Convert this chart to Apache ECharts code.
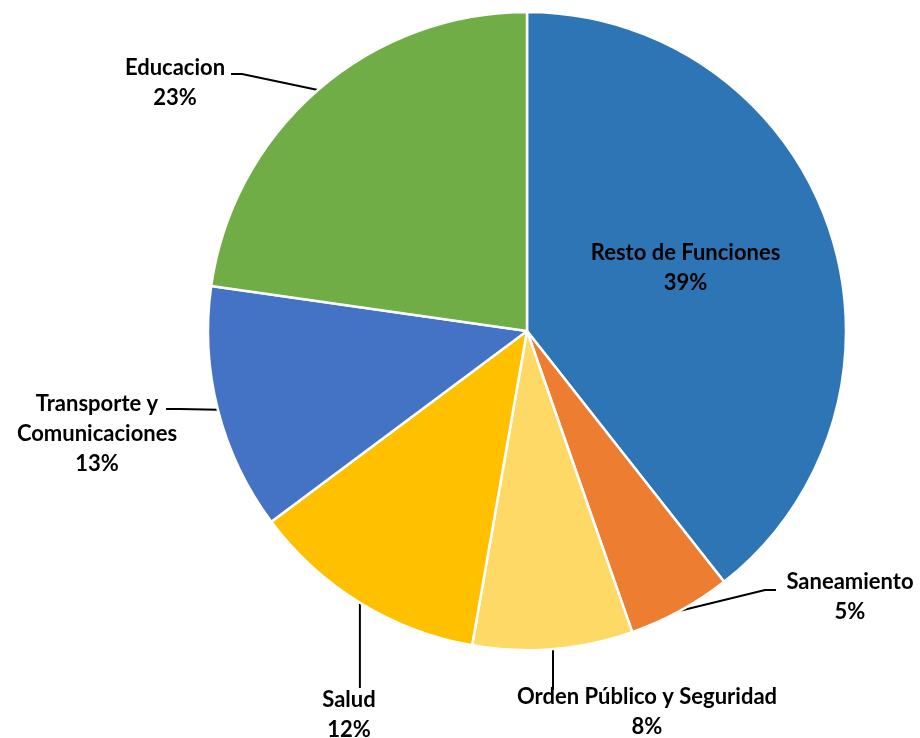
<!DOCTYPE html>
<html>
<head>
<meta charset="utf-8">
<script src="https://cdn.jsdelivr.net/npm/echarts@6/dist/echarts.min.js"></script>
<style>
  html, body { margin: 0; padding: 0; background: #fff; }
  #chart { width: 920px; height: 738px; }
</style>
</head>
<body>
<div id="chart"></div>
<script>
// datos (porcentaje del gasto)
var categorias = ['Resto de Funciones', 'Saneamiento', 'Orden Público y Seguridad', 'Salud', 'Transporte y\nComunicaciones', 'Educacion']
var valores = [39.4, 5.25, 8.1, 12.05, 12.45, 22.75]
var colores = ['#2E75B6', '#ED7D31', '#FFD966', '#FFC000', '#4472C4', '#70AD47']

// donde va cada etiqueta (centro del texto) y los puntos de la linea guia
// null en x = misma x que el borde del sector (linea vertical)
var posEtiquetas = {
  'Saneamiento': { at: [850, 597], line: [[765, 590], [776, 590]] },
  'Orden Público y Seguridad': { at: [647, 712], line: [[null, 680], [null, 690]] },
  'Salud': { at: [349, 715], line: [[null, 680], [null, 688]] },
  'Transporte y\nComunicaciones': { at: [97, 434], line: [[180, 409], [166, 409]] },
  'Educacion': { at: [175, 83], line: [[242, 74], [231, 74]] }
}

var chart = echarts.init(document.getElementById('chart'))
chart.setOption({
  animation: false,
  series: [{
    type: 'pie',
    center: [527, 331],
    radius: 319,
    startAngle: 90,
    clockwise: true,
    percentPrecision: 0,
    itemStyle: { borderColor: '#fff', borderWidth: 2.5 },
    label: {
      show: true,
      position: 'outside',
      formatter: '{b}\n{d}%',
      fontFamily: 'Lato',
      fontWeight: 'bold',
      fontSize: 22,
      lineHeight: 30,
      color: '#000',
      align: 'center'
    },
    labelLine: {
      show: true,
      length: 20,
      length2: 20,
      lineStyle: { color: '#000', width: 2 }
    },
    labelLayout: function (params) {
      var p = posEtiquetas[params.text.split('\n').slice(0, -1).join('\n')]
      if (!p) return {}
      var out = { x: p.at[0], y: p.at[1], align: 'center', verticalAlign: 'middle' }
      if (params.labelLinePoints) {
        var ini = params.labelLinePoints[0]
        out.labelLinePoints = [ini].concat(p.line.map(function (q) {
          return [q[0] == null ? ini[0] : q[0], q[1]]
        }))
      }
      return out
    },
    data: categorias.map(function (c, i) {
      var d = { name: c, value: valores[i], itemStyle: { color: colores[i] } }
      if (i === 0) {
        d.label = { position: 'inside', offset: [5, -10] }
        d.labelLine = { show: false }
      }
      return d
    })
  }]
})
</script>
</body>
</html>
